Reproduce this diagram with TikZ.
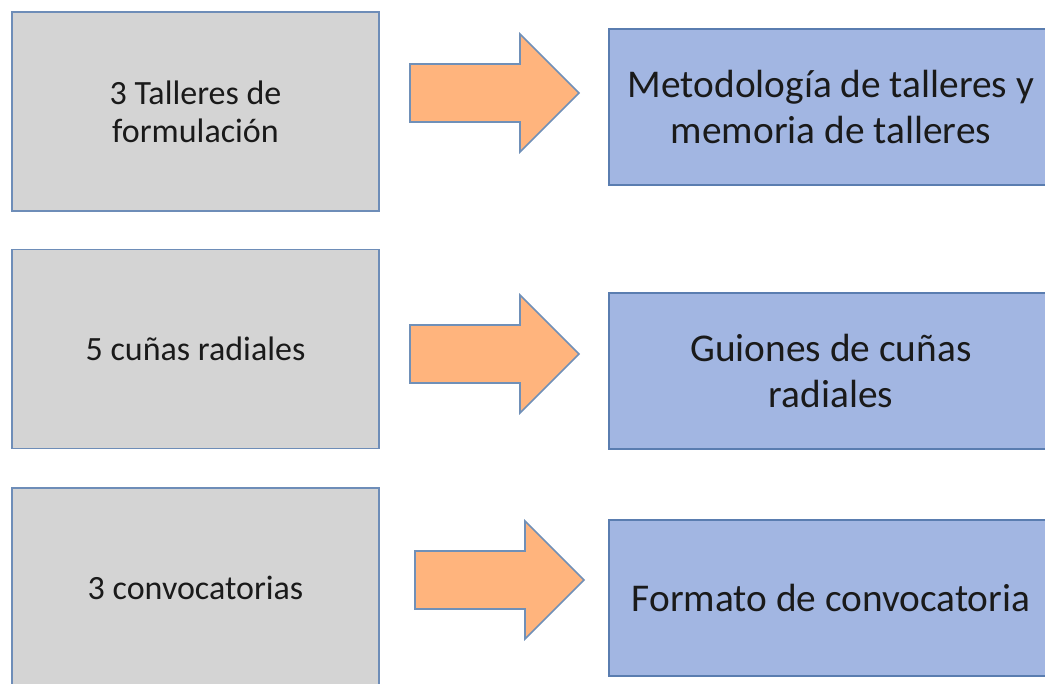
\documentclass[tikz,border=0pt]{standalone}
\usepackage{fontspec}
\setmainfont{Carlito}
\usepackage[HTML]{xcolor}
\usepackage{tikz}

\definecolor{cajagris}{HTML}{D4D4D4}
\definecolor{bordegris}{HTML}{6E8DB8}
\definecolor{cajaazul}{HTML}{A2B6E2}
\definecolor{bordeazul}{HTML}{5A7DB0}
\definecolor{naranja}{HTML}{FFB47D}
\definecolor{bordeflecha}{HTML}{7090B8}
\definecolor{texto}{HTML}{1A1A1A}

\tikzset{
  entrada/.style={draw=bordegris, fill=cajagris, line width=1.2pt, text=texto,
    minimum width=367*0.75pt, minimum height=199*0.75pt, align=center,
    font=\fontsize{25.5}{28.5}\selectfont},
  producto/.style={draw=bordeazul, fill=cajaazul, line width=1.2pt, text=texto,
    minimum width=444*0.75pt, minimum height=156*0.75pt, align=center,
    font=\fontsize{29.5}{34}\selectfont},
  flecha/.style={draw=bordeflecha, fill=naranja, line width=1.2pt, line join=miter}
}

\begin{document}
\begin{tikzpicture}[x=0.75pt, y=-0.75pt]
\path[use as bounding box, clip] (0,0) rectangle (1045,684);

% row 1: talleres
\node[entrada] (talleres) at (195.5,111.5) {3 Talleres de\\formulación};
\node[producto] (metodologia) at (831,107) {Metodología de talleres y\\memoria de talleres};

% row 2: cunas radiales
\node[entrada] (cunas) at (195.5,349) {5 cuñas radiales};
\node[producto] (guiones) at (831,371) {Guiones de cuñas\\radiales};

% row 3: convocatorias
\node[entrada] (convocatorias) at (195.5,587.5) {3 convocatorias};
\node[producto] (formato) at (831,598) {Formato de convocatoria};

% block arrows between the columns
\foreach \ax/\ay in {410/93, 410/354, 415/580}
  \draw[flecha] (\ax,\ay-29) -- ++(110,0) -- ++(0,-30) -- ++(59,59)
    -- ++(-59,59) -- ++(0,-30) -- ++(-110,0) -- cycle;
\end{tikzpicture}
\end{document}
